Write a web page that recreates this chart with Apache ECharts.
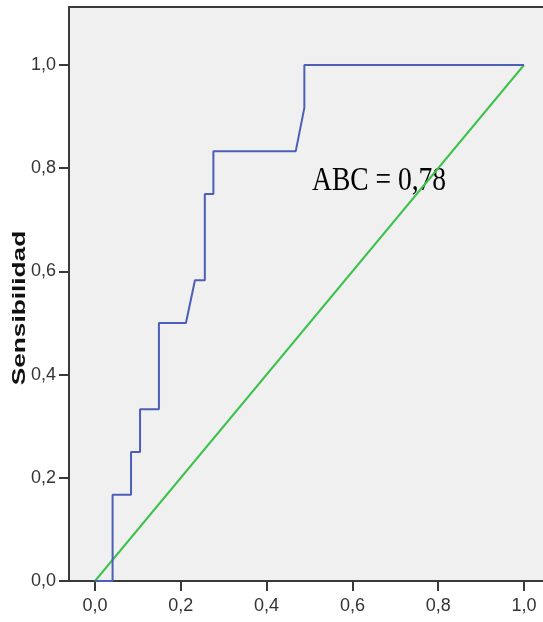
<!DOCTYPE html>
<html>
<head>
<meta charset="utf-8">
<script src="https://cdn.jsdelivr.net/npm/echarts@6/dist/echarts.min.js"></script>
<style>
html,body{margin:0;padding:0;background:#fff;}
#chart{width:543px;height:622px;}
</style>
</head>
<body>
<div id="chart"></div>
<script>
// ROC curve (1 - Especificidad vs Sensibilidad)
var rocFpr = [0, 0.041, 0.041, 0.084, 0.084, 0.105, 0.105, 0.149, 0.149, 0.212, 0.233, 0.256, 0.256, 0.276, 0.276, 0.468, 0.488, 0.488, 1.0];
var rocTpr = [0, 0, 0.167, 0.167, 0.25, 0.25, 0.333, 0.333, 0.5, 0.5, 0.583, 0.583, 0.75, 0.75, 0.833, 0.833, 0.917, 1.0, 1.0];
// reference diagonal
var refX = [0, 1];
var refY = [0, 1];
// tick labels
var xTicks = [0, 0.2, 0.4, 0.6, 0.8, 1.0];
var yTicks = [0, 0.2, 0.4, 0.6, 0.8, 1.0];
var yTitle = 'Sensibilidad';
var aucText = 'ABC = 0,78';

function pairs(xs, ys) { return xs.map(function (x, i) { return [x, ys[i]]; }); }
function fmt(v) { return Number(v).toFixed(1).replace('.', ','); }

var axisColor = '#3a3a3a';
var labelFont = { color: '#333', fontSize: 18, fontFamily: 'Liberation Sans, Arial, sans-serif' };
var xMin = -0.0606, xMax = 1.0443;
var chart = echarts.init(document.getElementById('chart'));
chart.setOption({
  animation: false,
  backgroundColor: '#ffffff',
  grid: {
    left: 69, top: 7, right: 0, bottom: 41,
    show: true, backgroundColor: '#f0f0f0', borderWidth: 0
  },
  xAxis: [
    {
      type: 'value', min: xMin, max: xMax, position: 'bottom',
      splitLine: { show: false },
      axisLine: { show: true, onZero: false, lineStyle: { color: axisColor, width: 2 } },
      axisTick: { show: true, length: 10, lineStyle: { color: axisColor, width: 2 }, customValues: xTicks },
      axisLabel: Object.assign({ customValues: xTicks, formatter: fmt, margin: 16 }, labelFont)
    },
    {
      type: 'value', min: xMin, max: xMax, position: 'top',
      splitLine: { show: false },
      axisLine: { show: true, onZero: false, lineStyle: { color: axisColor, width: 2 } },
      axisTick: { show: false }, axisLabel: { show: false }
    }
  ],
  yAxis: {
    type: 'value', min: 0, max: 1.1124,
    splitLine: { show: false },
    axisLine: { show: true, onZero: false, lineStyle: { color: axisColor, width: 2 } },
    axisTick: { show: true, length: 10, lineStyle: { color: axisColor, width: 2 }, customValues: yTicks },
    axisLabel: Object.assign({ customValues: yTicks, formatter: fmt, margin: 13 }, labelFont)
  },
  series: [
    {
      type: 'line', data: pairs(refX, refY), showSymbol: false, symbol: 'none',
      lineStyle: { color: '#3fc24b', width: 2 }, z: 2
    },
    {
      type: 'line', data: pairs(rocFpr, rocTpr), showSymbol: false, symbol: 'none',
      lineStyle: { color: '#4c5fb6', width: 2 }, z: 3
    }
  ],
  graphic: [
    {
      type: 'text', x: 20, y: 308, rotation: Math.PI / 2, scaleX: 1.38, scaleY: 1,
      style: { text: yTitle, font: 'bold 19px "Liberation Sans", Arial, sans-serif', fill: '#111', align: 'center', verticalAlign: 'middle' }
    },
    {
      type: 'text', x: 312, y: 181, scaleX: 0.81, scaleY: 1,
      style: { text: aucText, font: '34px "Liberation Serif", "Times New Roman", serif', fill: '#000', align: 'left', verticalAlign: 'middle' }
    }
  ]
});
</script>
</body>
</html>
